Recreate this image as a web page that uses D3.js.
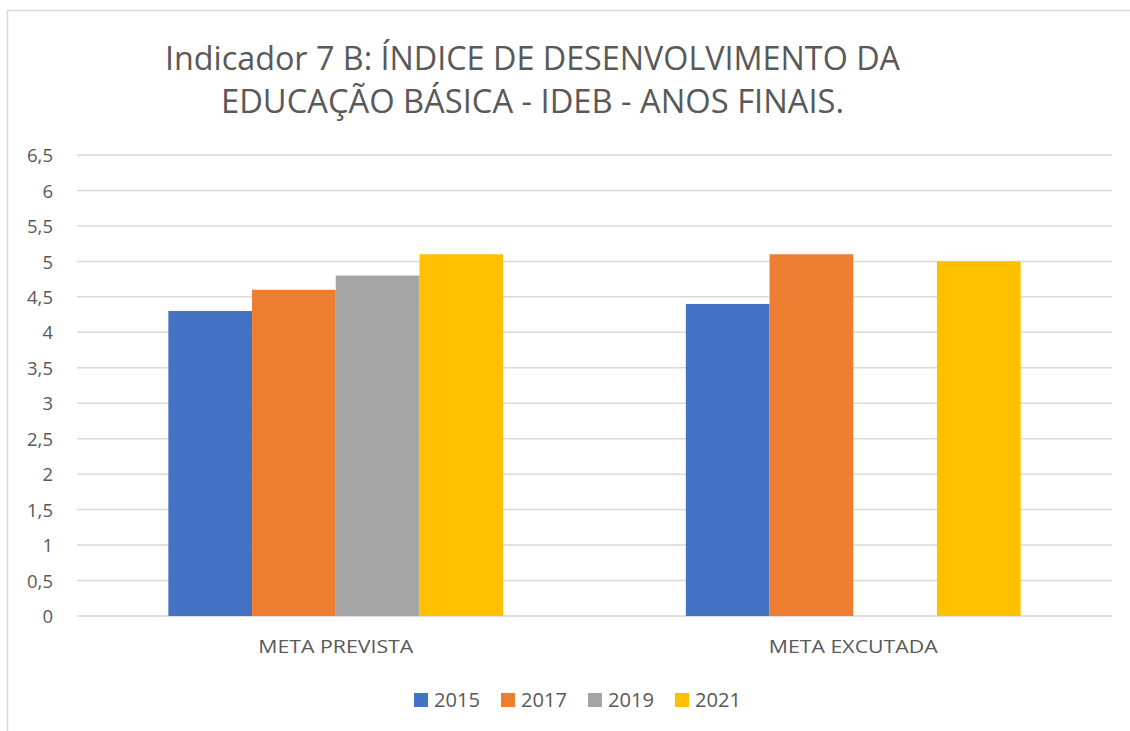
<!DOCTYPE html>
<html><head><meta charset="utf-8">
<script src="https://cdn.jsdelivr.net/npm/d3@7"></script>
<style>html,body{margin:0;padding:0;background:#fff;} svg{display:block;}</style>
</head><body>
<svg id="c" width="1130" height="731"></svg>
<script>
const categories = ["META PREVISTA", "META EXCUTADA"];
const seriesNames = ["2015", "2017", "2019", "2021"];
const values2015 = [4.3, 4.4];
const values2017 = [4.6, 5.1];
const values2019 = [4.8, null];
const values2021 = [5.1, 5.0];
const colors = ["#4472C4", "#ED7D31", "#A5A5A5", "#FFC000"];
const yTicks = [0, 0.5, 1, 1.5, 2, 2.5, 3, 3.5, 4, 4.5, 5, 5.5, 6, 6.5];
const titleLines = ["Indicador 7 B: ÍNDICE DE DESENVOLVIMENTO DA", "EDUCAÇÃO BÁSICA - IDEB - ANOS FINAIS."];

const seriesValues = [values2015, values2017, values2019, values2021];
const font = "'Open Sans', 'Liberation Sans', sans-serif";
const svg = d3.select("#c");

// chart border
svg.append("rect").attr("x", 7.5).attr("y", 10.5).attr("width", 1140).attr("height", 740)
  .attr("fill", "#fff").attr("stroke", "#d9d9d9").attr("stroke-width", 1.5);

const plotLeft = 77, plotRight = 1112, plotTop = 155, plotBottom = 616;
const x0 = d3.scaleBand().domain(categories).range([plotLeft, plotRight]).paddingInner(0).paddingOuter(0);
const groupW = x0.bandwidth() * 0.647;
const x1 = d3.scaleBand().domain(seriesNames).range([0, groupW]).padding(0);
const y = d3.scaleLinear().domain([0, 6.5]).range([plotBottom, plotTop]);

// gridlines
svg.append("g").selectAll("line").data(yTicks).join("line")
  .attr("x1", plotLeft).attr("x2", plotRight)
  .attr("y1", d => y(d)).attr("y2", d => y(d))
  .attr("stroke", "#d9d9d9").attr("stroke-width", 1.5);

// y axis labels
const yAxis = d3.axisLeft(y).tickValues(yTicks).tickSize(0).tickPadding(0)
  .tickFormat(d => String(d).replace(".", ","));
const ga = svg.append("g").attr("transform", `translate(53,0)`).call(yAxis);
ga.select(".domain").remove();
ga.selectAll("text").attr("font-family", font).attr("font-size", 18.5).attr("fill", "#595959").attr("dy", "0.36em");

// bars
const groups = svg.append("g").selectAll("g").data(categories).join("g")
  .attr("transform", d => `translate(${x0(d) + (x0.bandwidth() - groupW) / 2},0)`);
groups.selectAll("rect").data((c, ci) => seriesNames.map((s, si) => ({s, si, v: seriesValues[si][ci]})).filter(d => d.v != null))
  .join("rect")
  .attr("x", d => x1(d.s)).attr("width", x1.bandwidth())
  .attr("y", d => y(d.v)).attr("height", d => y(0) - y(d.v))
  .attr("fill", d => colors[d.si]);

// category labels
const catW = [155, 169];
svg.append("g").selectAll("text").data(categories).join("text")
  .attr("x", d => x0(d) + x0.bandwidth() / 2).attr("y", 653)
  .attr("text-anchor", "middle").attr("font-family", font).attr("font-size", 18.5).attr("fill", "#595959")
  .attr("textLength", (d, i) => catW[i]).attr("lengthAdjust", "spacingAndGlyphs")
  .text(d => d);

// title
const tw = [735, 623];
svg.append("g").selectAll("text").data(titleLines).join("text")
  .attr("x", 532.5).attr("y", (d, i) => 70 + i * 43)
  .attr("text-anchor", "middle").attr("font-family", font).attr("font-size", 33).attr("fill", "#595959")
  .attr("textLength", (d, i) => tw[i]).attr("lengthAdjust", "spacingAndGlyphs")
  .text(d => d);

// legend
const lg = svg.append("g").selectAll("g").data(seriesNames).join("g")
  .attr("transform", (d, i) => `translate(${414 + i * 87},0)`);
lg.append("rect").attr("x", 0).attr("y", 693).attr("width", 14).attr("height", 14).attr("fill", (d, i) => colors[i]);
lg.append("text").attr("x", 20).attr("y", 707).attr("font-family", font).attr("font-size", 19.5).attr("fill", "#595959")
  .attr("textLength", 46).attr("lengthAdjust", "spacingAndGlyphs").text(d => d);
</script>
</body></html>
